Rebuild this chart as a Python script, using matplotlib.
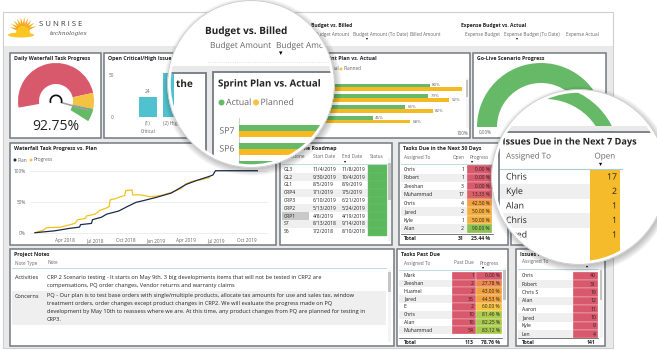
import math
import datetime as dt
import matplotlib.pyplot as plt
import matplotlib.patheffects as pe
from matplotlib.patches import Rectangle, Circle, Wedge, Polygon, Ellipse
from matplotlib.colors import LinearSegmentedColormap

plt.rcParams['font.family'] = ['Open Sans', 'DejaVu Sans']

W, H = 657, 350

# -----------------------------
# 1. Data
# -----------------------------
gauge_value = 92.75
gauge_limits = [80, 91, 100]          # red / yellow / green
golive_value = 100

issue_levels = ['(1)\nCritical', '(2) High']
issue_counts = [24, 52]

sprints = ['SP7', 'SP6', 'SP5', 'SP4']
sprint_actual = [80, 79, 65, 45]
sprint_planned = [100, 92, 82, 68]

plan_dates = ['2018-01-01', '2018-03-01', '2018-04-15', '2018-05-15', '2018-05-18',
              '2018-06-20', '2018-06-23', '2018-07-20', '2018-08-05', '2018-09-10',
              '2018-10-05', '2018-11-01', '2018-11-25', '2019-01-01', '2019-02-15',
              '2019-04-01', '2019-05-01', '2019-06-10', '2019-06-20', '2019-06-28',
              '2019-11-01']
plan_values = [0.00, 0.03, 0.07, 0.09, 0.13, 0.15, 0.21, 0.25, 0.30, 0.35,
               0.42, 0.49, 0.52, 0.57, 0.64, 0.78, 0.84, 0.91, 0.93, 1.00, 1.00]

progress_dates = ['2018-01-01', '2018-01-25', '2018-02-05', '2018-03-20', '2018-04-10',
                  '2018-05-01', '2018-05-10', '2018-06-01', '2018-06-05', '2018-07-01',
                  '2018-07-15', '2018-08-05', '2018-08-12', '2018-08-15', '2018-09-01',
                  '2018-09-15', '2018-09-28', '2018-10-01', '2018-10-20', '2018-10-22',
                  '2018-11-15', '2018-12-15', '2019-01-15', '2019-02-15', '2019-03-15',
                  '2019-04-01', '2019-04-20', '2019-05-20', '2019-06-10']
progress_values = [0.00, 0.04, 0.08, 0.09, 0.12, 0.15, 0.21, 0.23, 0.27, 0.30,
                   0.36, 0.40, 0.42, 0.53, 0.55, 0.58, 0.60, 0.68, 0.69, 0.61,
                   0.61, 0.58, 0.60, 0.65, 0.71, 0.79, 0.83, 0.86, 0.89]

milestones = ['GL3', 'GL2', 'GL1', 'CRP4', 'CRP3', 'CRP2', 'CRP1', 'S7', 'S6']
ms_start = ['11/4/2019', '9/30/2019', '8/5/2019', '7/1/2019', '6/10/2019',
            '5/13/2019', '4/8/2019', '8/13/2018', '7/2/2018']
ms_end = ['11/8/2019', '10/4/2019', '8/9/2019', '7/5/2019', '6/21/2019',
          '5/24/2019', '4/19/2019', '9/14/2018', '8/10/2018']

due30_names = ['Chris', 'Robert', 'Zeeshan', 'Muhammad', 'Chris', 'Jared', 'Kyle', 'Alan']
due30_open = [1, 1, 3, 17, 4, 2, 1, 2]
due30_progress = [0.00, 0.00, 0.00, 13.33, 42.50, 50.00, 50.00, 90.00]
due30_total = (31, 25.44)

pastdue_names = ['Mark', 'Zeeshan', 'Huamel', 'Jared', 'E', 'Chris', 'Alan', 'Muhammad']
pastdue_count = [1, 2, 2, 35, 2, 10, 16, 54]
pastdue_progress = [0.00, 27.78, 43.00, 44.53, 60.00, 81.46, 82.25, 83.12]
pastdue_total = (113, 78.76)

issues7_names = ['Chris', 'Kyle', 'Alan', 'Chris', 'Jared']
issues7_open = [17, 2, 1, 1, 1]

issuespd_names = ['Chris', 'Robert', 'Chris S', 'Alan', 'Aaron', 'Jared', 'Kyle', 'Len']
issuespd_count = [40, 31, 19, 12, 11, 10, 9, 4]
issuespd_total = 141

note_types = ['Activities', 'Concerns']
note_lines = [
    ['CRP 2 Scenario testing - It starts on May 9th. 3 big developments items that will not be tested in CRP2 are',
     'compensations, PQ order changes, Vendor returns and warranty claims'],
    ['PQ - Our plan is to test base orders with single/multiple products, allocate tax amounts for use and sales tax, window',
     'treatment orders, order changes except product changes in CRP2. We will evaluate the progress made on PQ',
     'development by May 10th to reassess where we are. At this time, any product changes from PQ are planned for testing in',
     'CRP3.'],
]

# colours
RED, YEL, GRN, TEAL, NAVY = '#d9596c', '#f6c244', '#66b966', '#50c1cf', '#1c2b4a'
BORDER, BGGRAY, TXT, GTXT, SHADE = '#737a82', '#e9e9e9', '#252423', '#666666', '#efefef'
prog_cmap = LinearSegmentedColormap.from_list('prog', [
    (0, '#d9596c'), (0.15, '#dc6068'), (0.3, '#ee8f4c'), (0.45, '#f3a43f'),
    (0.6, '#f5c443'), (0.8, '#b3cd4b'), (0.9, '#8ec252'), (1, '#72b85a')])

# -----------------------------
# 2. Canvas
# -----------------------------
fig = plt.figure(figsize=(W / 100, H / 100), dpi=100)
bg = fig.add_axes([0, 0, 1, 1])
bg.set_xlim(0, W)
bg.set_ylim(H, 0)
bg.axis('off')


def sub_axes(x0, y0, x1, y1, z=1):
    a = fig.add_axes([x0 / W, 1 - y1 / H, (x1 - x0) / W, (y1 - y0) / H])
    a.set_zorder(z)
    a.patch.set_alpha(0)
    return a


def txt(ax, x, y, s, size=3.8, color=TXT, ha='left', weight='normal', clip=None, **kw):
    t = ax.text(x, y, s, fontsize=size, color=color, ha=ha, va='center', weight=weight, **kw)
    if clip is not None:
        t.set_clip_on(True)
        t.set_clip_path(clip)
        t.set_clip_box(None)
        t.set_path_effects([pe.Normal()])
    return t


def rect(ax, x0, y0, x1, y1, clip=None, **kw):
    r = Rectangle((x0, y0), x1 - x0, y1 - y0, **kw)
    ax.add_patch(r)
    if clip is not None:
        r.set_clip_path(clip)
    return r


def panel(x0, y0, x1, y1, title=None, tx=None):
    rect(bg, x0, y0, x1, y1, fc='white', ec=BORDER, lw=1.1, zorder=1)
    if title:
        txt(bg, tx if tx else x0 + 4, y0 + 5.5, title, size=3.8, weight='bold', zorder=3)


def scrollbar(x, y0, y1, t0, t1):
    rect(bg, x, y0, x + 3, y1, fc='#f4f4f4', ec='none', zorder=2)
    rect(bg, x + 0.4, t0, x + 2.6, t1, fc='#c4c4c4', ec='none', zorder=2)


# dashboard frame + header
rect(bg, 3, 12, 613, 348, fc='white', ec='#cfcfcf', lw=0.8, zorder=0)
rect(bg, 3.5, 46, 612.5, 347.5, fc=BGGRAY, ec='none', zorder=0)

# logo
for a in range(20, 170, 16):
    ca, sa = math.cos(math.radians(a)), math.sin(math.radians(a))
    pa, pb = math.cos(math.radians(a + 90)), math.sin(math.radians(a + 90))
    pts = [(23 + 5 * ca + 1.4 * pa, 31 - 5 * sa - 1.4 * pb),
           (23 + 5 * ca - 1.4 * pa, 31 - 5 * sa + 1.4 * pb),
           (23 + 14 * ca, 31 - 14 * sa)]
    bg.add_patch(Polygon(pts, fc='#f7a81b', ec='none', zorder=2))
bg.add_patch(Wedge((23, 33), 7, 180, 360, fc='#f9c623', ec='none', zorder=2))
bg.add_patch(Ellipse((21, 35), 26, 5, fc='#f9c623', ec='none', zorder=2))
txt(bg, 39, 24.5, 'S U N R I S E', size=5.6, color='#3c3c3c', zorder=3)
txt(bg, 50, 33, 'technologies', size=4.2, color='#555555', style='italic',
    family='DejaVu Serif', zorder=3)

txt(bg, 311, 25, 'Budget vs. Billed', size=3.6, weight='bold', zorder=3)
for x, s in [(315, 'Budget Amount'), (353, 'Budget Amount (To Date)'), (410, 'Billed Amount')]:
    txt(bg, x, 34.5, s, size=3.3, color=GTXT, zorder=3)
txt(bg, 461, 25, 'Expense Budget vs. Actual', size=3.6, weight='bold', zorder=3)
for x, s in [(465, 'Expense Budget'), (504, 'Expense Budget (To Date)'), (566, 'Expense Actual')]:
    txt(bg, x, 34.5, s, size=3.3, color=GTXT, zorder=3)
txt(bg, 366, 38.5, '▾', size=2.8, color='black', zorder=3)
txt(bg, 516, 38.5, '▾', size=2.8, color='black', zorder=3)

# -----------------------------
# 3. Row 1
# -----------------------------
panel(10, 53, 101, 138, 'Daily Waterfall Task Progress')
gc_, gR = (56, 101), 38
edges = [0] + gauge_limits
for v0, v1, col in zip(edges[:-1], edges[1:], [RED, YEL, GRN]):
    a0, a1 = 190 - v0 * 2.22, 190 - v1 * 2.22
    bg.add_patch(Wedge(gc_, gR, -a0, -a1, width=21, fc=col, ec='none', zorder=2))
na = math.radians(190 - gauge_value * 2.22)
bg.plot([gc_[0] + 6 * math.cos(na), gc_[0] + 33 * math.cos(na)],
        [gc_[1] - 6 * math.sin(na), gc_[1] - 33 * math.sin(na)], color='#a0a0a0', lw=1.2, zorder=3)
bg.add_patch(Wedge(gc_, 6.5, -200, 20, width=1.7, fc='#111111', ec='none', zorder=4))
txt(bg, 56, 127, f'{gauge_value:.2f}%', size=10, ha='center', zorder=3)

panel(104, 53, 212, 138, 'Open Critical/High Issues')
ax_b = sub_axes(118, 65, 200, 117.3)
ax_b.bar(range(len(issue_counts)), issue_counts, width=0.75, color=TEAL)
for i, v in enumerate(issue_counts):
    ax_b.text(i, v + 3, str(v), ha='center', va='bottom', fontsize=3.5, color=GTXT)
ax_b.set_xlim(-1.25, 2.17)
ax_b.set_ylim(0, 61.8)
ax_b.set_yticks([0, 50])
ax_b.set_xticks(range(len(issue_levels)))
ax_b.set_xticklabels(issue_levels, fontsize=3.4, color=GTXT, linespacing=1.6)
ax_b.tick_params(length=0, labelsize=3.4, labelcolor=GTXT, pad=3)
for s in ax_b.spines.values():
    s.set_visible(False)

panel(216, 53, 470, 138, 'Sprint Plan vs. Actual', tx=321)
bg.add_patch(Circle((322, 69), 1.5, fc=GRN, ec='none', zorder=3))
txt(bg, 325, 69, 'Actual', size=3.4, color=GTXT, zorder=3)
bg.add_patch(Circle((341, 69), 1.5, fc=YEL, ec='none', zorder=3))
txt(bg, 344, 69, 'Planned', size=3.4, color=GTXT, zorder=3)
ax_s = sub_axes(300, 82, 462, 125)
ys = list(range(len(sprints)))
ax_s.barh([y - 0.18 for y in ys], sprint_actual, height=0.34, color=GRN)
ax_s.barh([y + 0.18 for y in ys], sprint_planned, height=0.34, color='#f5b921')
for y, a, p in zip(ys, sprint_actual, sprint_planned):
    ax_s.text(a + 1.5, y - 0.18, f'{a}%', fontsize=3.2, color=GTXT, va='center')
    if p < 100:
        ax_s.text(p + 1.5, y + 0.18, f'{p}%', fontsize=3.2, color=GTXT, va='center')
ax_s.set_ylim(3.5, -0.5)
ax_s.set_xlim(0, 100)
ax_s.set_yticks([])
ax_s.set_xticks([100])
ax_s.set_xticklabels(['100%'])
ax_s.tick_params(length=0, labelsize=3.3, labelcolor=GTXT, pad=4)
for s in ax_s.spines.values():
    s.set_visible(False)
scrollbar(465.5, 78, 128, 80, 97)

panel(473, 53, 606, 138, 'Go-Live Scenario Progress')
bg.add_patch(Wedge((541, 127), 64, -180, -180 + 180 * golive_value / 100, width=20,
                   fc=GRN, ec='none', zorder=2))
txt(bg, 479, 133, '0.00%', size=3.3, color=GTXT, zorder=3)

# -----------------------------
# 4. Row 2
# -----------------------------
panel(10, 143, 276, 245, 'Waterfall Task Progress vs. Plan')
bg.add_patch(Circle((15, 160), 1.5, fc=NAVY, ec='none', zorder=3))
txt(bg, 18, 160, 'Plan', size=3.4, color=GTXT, zorder=3)
bg.add_patch(Circle((31, 160), 1.5, fc=YEL, ec='none', zorder=3))
txt(bg, 34, 160, 'Progress', size=3.4, color=GTXT, zorder=3)
ax_l = sub_axes(30, 168, 268, 234)
pd_ = [dt.datetime.fromisoformat(d) for d in plan_dates]
gd_ = [dt.datetime.fromisoformat(d) for d in progress_dates]
ax_l.plot(gd_, progress_values, color='#f2c21b', lw=0.9)
ax_l.plot(pd_, plan_values, color=NAVY, lw=0.9)
ax_l.set_xlim(dt.datetime(2017, 12, 17), dt.datetime(2019, 12, 3))
ax_l.set_ylim(-0.021, 1.044)
ticks = [dt.datetime(y, m, 1) for y, m in [(2018, 4), (2018, 7), (2018, 10), (2019, 1),
                                           (2019, 4), (2019, 7), (2019, 10)]]
ax_l.set_xticks(ticks)
ax_l.set_xticklabels([t.strftime('%b %Y') for t in ticks])
ax_l.set_yticks([0, 0.5, 1])
ax_l.set_yticklabels(['0%', '50%', '100%'])
ax_l.tick_params(length=0, labelsize=3.4, labelcolor=GTXT, pad=3)
ax_l.grid(axis='y', color='#e6e6e6', lw=0.5)
ax_l.set_axisbelow(True)
for s in ax_l.spines.values():
    s.set_visible(False)

# roadmap table
panel(280, 143, 392, 245, 'Milestone Roadmap')
for x, s in [(284, 'Milestone'), (313, 'Start Date'), (342, 'End Date'), (370, 'Status')]:
    txt(bg, x, 157, s, size=3.4, color=GTXT, zorder=3)
txt(bg, 344, 161, '▾', size=3, color='black', zorder=3)
bg.plot([282, 388], [163.5, 163.5], color='#b5d5d8', lw=0.6, zorder=3)
step = 7.8
for i, (m, s0, s1) in enumerate(zip(milestones, ms_start, ms_end)):
    y = 169.3 + i * step
    if i % 2 == 1:
        rect(bg, 282, y - step / 2, 368, y + step / 2, fc=SHADE, ec='none', zorder=2)
    if m == 'CRP1':
        rect(bg, 282, y - step / 2, 309, y + step / 2, fc='#c9c9c9', ec='none', zorder=2)
    rect(bg, 368, y - step / 2, 387, y + step / 2, fc='#5cb85c', ec='#6fc16f', lw=0.3, zorder=2)
    txt(bg, 284, y, m, size=3.6, zorder=3)
    txt(bg, 313, y, s0, size=3.6, zorder=3)
    txt(bg, 342, y, s1, size=3.6, zorder=3)
scrollbar(388, 158, 241, 163, 200)

# tasks due in next 30 days
panel(399, 143, 508, 245, 'Tasks Due in the Next 30 Days')
txt(bg, 404, 157, 'Assigned To', size=3.4, color=GTXT, zorder=3)
txt(bg, 465, 157, 'Open', size=3.4, color=GTXT, ha='right', zorder=3)
txt(bg, 469, 157, 'Progress', size=3.4, color=GTXT, zorder=3)
txt(bg, 471, 161, '▾', size=3, color='black', zorder=3)
bg.plot([401, 493], [163.5, 163.5], color='#b5d5d8', lw=0.6, zorder=3)
step = 8.47
for i, (n, o, p) in enumerate(zip(due30_names, due30_open, due30_progress)):
    y = 169.3 + i * step
    if i % 2 == 1:
        rect(bg, 401, y - step / 2, 467, y + step / 2, fc=SHADE, ec='none', zorder=2)
    rect(bg, 467, y - step / 2, 492, y + step / 2, fc=prog_cmap(p / 100), ec='white', lw=0.2, zorder=2)
    txt(bg, 404, y, n, size=3.7, zorder=3)
    txt(bg, 464, y, str(o), size=3.7, ha='right', zorder=3)
    txt(bg, 490, y, f'{p:.2f} %', size=3.5, ha='right', zorder=3)
bg.plot([401, 493], [233.5, 233.5], color='#444444', lw=0.5, zorder=3)
txt(bg, 404, 238, 'Total', size=3.7, weight='bold', zorder=3)
txt(bg, 464, 238, str(due30_total[0]), size=3.7, weight='bold', ha='right', zorder=3)
txt(bg, 490, 238, f'{due30_total[1]:.2f} %', size=3.7, weight='bold', ha='right', zorder=3)

panel(511, 143, 606, 245)

# -----------------------------
# 5. Row 3
# -----------------------------
panel(10, 249, 394, 346, 'Project Notes')
txt(bg, 15, 263, 'Note Type', size=3.3, color=GTXT, zorder=3)
txt(bg, 47, 263, 'Note', size=3.3, color=GTXT, zorder=3)
bg.plot([12, 386], [267.5, 267.5], color='#b5d5d8', lw=0.6, zorder=3)
rect(bg, 12, 291, 386, 325, fc=SHADE, ec='none', zorder=2)
row_y = [277.7, 296]
for t, lines, y0 in zip(note_types, note_lines, row_y):
    txt(bg, 15, y0, t, size=4.1, zorder=3)
    for k, line in enumerate(lines):
        txt(bg, 47, y0 + k * 7.9, line, size=4.1, zorder=3)
scrollbar(388, 270, 342, 272, 292)

panel(397, 249, 508, 346, 'Tasks Past Due')
txt(bg, 404, 263, 'Assigned To', size=3.4, color=GTXT, zorder=3)
txt(bg, 474, 263, 'Past Due', size=3.4, color=GTXT, ha='right', zorder=3)
txt(bg, 480, 263, 'Progress', size=3.4, color=GTXT, zorder=3)
txt(bg, 482, 267, '▾', size=3, color='black', zorder=3)
bg.plot([399, 502], [269.5, 269.5], color='#b5d5d8', lw=0.6, zorder=3)
step = 7.8
for i, (n, c, p) in enumerate(zip(pastdue_names, pastdue_count, pastdue_progress)):
    y = 275.7 + i * step
    if i % 2 == 1:
        rect(bg, 399, y - step / 2, 452, y + step / 2, fc=SHADE, ec='none', zorder=2)
    rect(bg, 452, y - step / 2, 476, y + step / 2, fc=RED, ec='white', lw=0.2, zorder=2)
    rect(bg, 476, y - step / 2, 502, y + step / 2, fc=prog_cmap(p / 100), ec='white', lw=0.2, zorder=2)
    txt(bg, 404, y, n, size=3.7, zorder=3)
    txt(bg, 474, y, str(c), size=3.7, ha='right', zorder=3)
    txt(bg, 500, y, f'{p:.2f} %', size=3.5, ha='right', zorder=3)
bg.plot([399, 502], [337.5, 337.5], color='#444444', lw=0.5, zorder=3)
txt(bg, 404, 342, 'Total', size=3.7, weight='bold', zorder=3)
txt(bg, 474, 342, str(pastdue_total[0]), size=3.7, weight='bold', ha='right', zorder=3)
txt(bg, 500, 342, f'{pastdue_total[1]:.2f} %', size=3.7, weight='bold', ha='right', zorder=3)
scrollbar(503, 268, 340, 270, 300)

panel(516, 249, 605, 346, 'Issues Past Due')
txt(bg, 522, 262, 'Assigned To', size=3.4, color=GTXT, zorder=3)
txt(bg, 595, 262, 'Past Due', size=3.4, color=GTXT, ha='right', zorder=3)
txt(bg, 586, 266, '▾', size=3, color='black', zorder=3)
bg.plot([518, 598], [268.5, 268.5], color='#b5d5d8', lw=0.6, zorder=3)
step = 8.33
for i, (n, c) in enumerate(zip(issuespd_names, issuespd_count)):
    y = 275.7 + i * step
    if i % 2 == 1:
        rect(bg, 518, y - step / 2, 573, y + step / 2, fc=SHADE, ec='none', zorder=2)
    rect(bg, 573, y - step / 2, 598, y + step / 2, fc=RED, ec='white', lw=0.2, zorder=2)
    txt(bg, 522, y, n, size=3.7, zorder=3)
    txt(bg, 596, y, str(c), size=3.7, ha='right', zorder=3)
bg.plot([518, 598], [337.5, 337.5], color='#444444', lw=0.5, zorder=3)
txt(bg, 522, 342, 'Total', size=3.7, weight='bold', zorder=3)
txt(bg, 596, 342, str(issuespd_total), size=3.7, weight='bold', ha='right', zorder=3)
scrollbar(599.5, 268, 338, 270, 300)

# -----------------------------
# 6. Magnifier circles
# -----------------------------
ov = sub_axes(0, 0, W, H, z=5)
ov.set_xlim(0, W)
ov.set_ylim(H, 0)
ov.axis('off')

c1, r1 = (251, 84), 82
c2, r2 = (579, 177), 86
for (cx, cy), r in [(c1, r1), (c2, r2)]:
    for k in range(1, 8):
        ov.add_patch(Circle((cx + 1.5, cy + 2.5), r + k, fc='black', ec='none', alpha=0.035))
clip1 = Circle(c1, r1, fc='white', ec='none')
clip2 = Circle(c2, r2, fc='white', ec='none')
ov.add_patch(clip1)
ov.add_patch(clip2)

# circle 1: Budget vs. Billed + Sprint Plan
txt(ov, 205, 31.5, 'Budget vs. Billed', size=7.2, weight='bold', clip=clip1)
txt(ov, 210, 46.5, 'Budget Amount', size=6, color=GTXT, clip=clip1)
txt(ov, 276, 46.5, 'Budget Amount (To Date)', size=6, color=GTXT, clip=clip1)
txt(ov, 279, 53.5, '▾', size=5, color='black', clip=clip1)
ov.plot([208, 330], [62, 62], color='#d8d8d8', lw=0.6, ls=':', clip_path=clip1)
rect(ov, 150, 66, 380, 180, clip=clip1, fc=BGGRAY, ec='none')
rect(ov, 100, 73, 206, 200, clip=clip1, fc='white', ec=BORDER, lw=1.3)
rect(ov, 150, 74, 174, 200, clip=clip1, fc=TEAL, ec='none')
txt(ov, 176, 84.5, 'the', size=7.2, weight='bold', clip=clip1)
rect(ov, 213, 72, 420, 200, clip=clip1, fc='white', ec=BORDER, lw=1.3)
txt(ov, 218, 84, 'Sprint Plan vs. Actual', size=7, weight='bold', clip=clip1)
for x, col, s in [(221.5, GRN, 'Actual'), (256, YEL, 'Planned')]:
    ov.add_patch(Circle((x, 102.5), 3, fc=col, ec='none'))
    txt(ov, x + 4.5, 102.5, s, size=6.3, color=GTXT, clip=clip1)
ov.plot([239, 239], [118, 200], color='#d0d0d0', lw=0.8, clip_path=clip1)

m_top, m_row = 122, 18
ax_m = sub_axes(239, m_top, 420, m_top + m_row * len(sprints), z=6)
ax_m.axis('off')
bars_a = ax_m.barh([y - 0.17 for y in ys], sprint_actual, height=0.3, color=GRN)
bars_p = ax_m.barh([y + 0.17 for y in ys], sprint_planned, height=0.3, color='#f5b921')
ax_m.set_ylim(len(sprints) - 0.5, -0.5)
ax_m.set_xlim(0, 60)
for b in list(bars_a) + list(bars_p):
    b.set_clip_path(clip1)
for y, s in zip(ys, sprints):
    txt(ov, 234.5, m_top + (y + 0.5) * m_row, s, size=6.3, color=GTXT, ha='right', clip=clip1)

# circle 2: Issues Due in the Next 7 Days
g2 = Wedge((545, 160), 75, -180, 0, width=14, fc=GRN, ec='none')
ov.add_patch(g2)
g2.set_clip_path(clip2)
rect(ov, 480, 126, 680, 131, clip=clip2, fc=BGGRAY, ec='none')
rect(ov, 498.5, 131.5, 700, 320, clip=clip2, fc='white', ec=BORDER, lw=1.3)
txt(ov, 502.5, 142, 'Issues Due in the Next 7 Days', size=6.6, weight='bold', clip=clip2)
txt(ov, 506, 157, 'Assigned To', size=5.8, color=GTXT, clip=clip2)
txt(ov, 615, 157, 'Open', size=5.8, color=GTXT, ha='right', clip=clip2)
txt(ov, 599, 164.5, '▾', size=4.5, color='black', clip=clip2)
ov.plot([500, 622], [168.5, 168.5], color='#a9cfd3', lw=0.8, clip_path=clip2)
step = 14.5
for i, (n, o) in enumerate(zip(issues7_names, issues7_open)):
    y = 177 + i * step
    if i % 2 == 1:
        rect(ov, 500, y - step / 2, 590, y + step / 2, clip=clip2, fc=SHADE, ec='none')
    rect(ov, 590, y - step / 2, 620, y + step / 2 + (30 if i == len(issues7_names) - 1 else 0),
         clip=clip2, fc='#f5bb2a', ec='none')
    txt(ov, 506, y, n, size=6.3, clip=clip2)
    txt(ov, 617, y, str(o), size=6.3, ha='right', clip=clip2)

# rims
rim = sub_axes(0, 0, W, H, z=7)
rim.set_xlim(0, W)
rim.set_ylim(H, 0)
rim.axis('off')
for c, r in [(c1, r1), (c2, r2)]:
    rim.add_patch(Circle(c, r, fc='none', ec='white', lw=2.5))
    rim.add_patch(Circle(c, r + 1.4, fc='none', ec='#c9c9c9', lw=0.6))

plt.savefig('out.png', dpi=100)
